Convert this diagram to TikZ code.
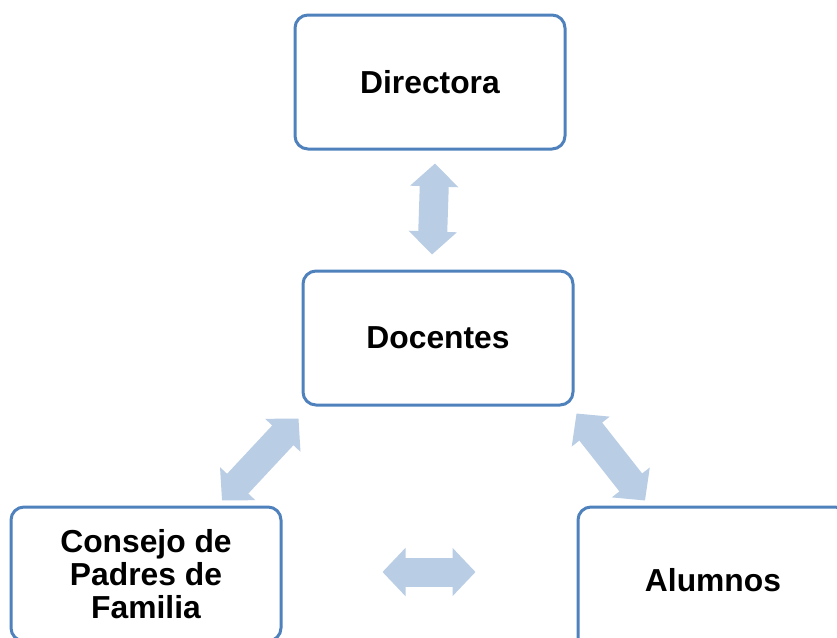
\documentclass[tikz,border=0pt]{standalone}
\usepackage{fontspec}
\setmainfont{Liberation Sans}
\usetikzlibrary{arrows.meta,calc}
\definecolor{boxline}{HTML}{4F81BD}
\definecolor{arrowfill}{HTML}{B9CDE5}
\tikzset{
  box/.style={draw=boxline, line width=3pt, rounded corners=13pt, fill=white,
    minimum width=270pt, minimum height=134pt, inner sep=0pt, align=center,
    font=\fontsize{31.8}{33}\selectfont\bfseries},
  fatarrow/.style={draw=arrowfill, line width=29pt,
    {Triangle[length=23pt,width=47pt]}-{Triangle[length=23pt,width=47pt]}}
}
\begin{document}
\begin{tikzpicture}[x=1pt,y=-1pt]
\useasboundingbox (0,0) rectangle (837,637);
\clip (0,0) rectangle (837,637);
\node[box] (dir) at (430,82) {Directora};
\node[box] (doc) at (438,338) {Docentes};
\node[box] (cons) at (146,574) {Consejo de\\Padres de\\Familia};
\node[box, minimum height=146pt] (alu) at (713,580) {Alumnos};
\coordinate (v1) at ($(dir.south)+(5,13)$);
\coordinate (v2) at ($(doc.north)+(-6,-15)$);
\coordinate (l1) at ($(doc.south west)+(-3,12)$);
\coordinate (l2) at ($(cons.north)+(76,-5)$);
\coordinate (r1) at ($(doc.south east)+(2,7)$);
\coordinate (r2) at ($(alu.north)+(-68,-5)$);
\coordinate (h1) at ($(cons.east)+(100,-2)$);
\coordinate (h2) at ($(alu.west)+(-101,-8)$);
\draw[fatarrow] (v1) -- (v2);
\draw[fatarrow] (l1) -- (l2);
\draw[fatarrow] (r1) -- (r2);
\draw[fatarrow] (h1) -- (h2);
\end{tikzpicture}
\end{document}
